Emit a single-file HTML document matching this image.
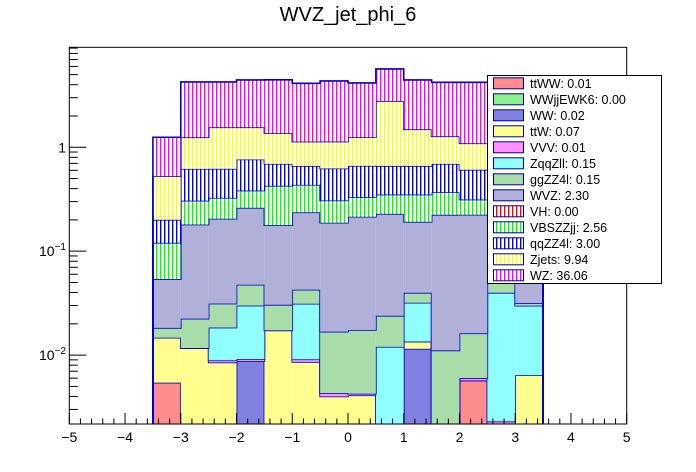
<!DOCTYPE html>
<html><head><meta charset="utf-8"><style>
html,body{margin:0;padding:0;background:#fff;}
svg{display:block;font-family:"Liberation Sans",Arial,sans-serif;}
</style></head><body>
<svg id="c" width="696" height="472" viewBox="0 0 696 472" xmlns="http://www.w3.org/2000/svg">
<defs id="defs"></defs>
<rect width="696" height="472" fill="#fff"/>
<text x="348" y="21" font-size="20" text-anchor="middle">WVZ_jet_phi_6</text>
<clipPath id="pc"><rect x="69.3" y="47.3" width="557.4" height="376.7"/></clipPath>
<g id="layers" clip-path="url(#pc)"></g>
<g id="axes"></g>
<g id="legend"></g>
</svg>
<script>
const binLow = -3.5, binWidth = 0.5;
const ttWW  = [0.00543,0,0,0,0,0,0,0,0,0,0,0.0057,0,0];
const WWjj  = [0,0,0,0,0,0,0,0,0,0,0,0,0,0];
const WW    = [0,0,0,0.00875,0,0,0,0,0,0.0115,0,0,0,0];
const ttW   = [0.00927,0.0117,0.0085,0,0.0173,0.0086,0.0040,0.0041,0,0.0020,0,0,0,0.0064];
const VVV   = [0,0,0.0004,0.0004,0,0.0005,0.0003,0.00015,0,0,0,0.0003,0.0023,0];
const ZqqZll= [0,0,0.0095,0.0208,0,0.0221,0,0,0.012,0.0184,0,0,0.0375,0.0235];
const ggZZ  = [0.00357,0.0107,0.0129,0.0176,0.0132,0.0114,0.0125,0.0132,0.0119,0.0079,0.0111,0.0102,0.0124,0.0017];
const WVZ   = [0.0357,0.158,0.174,0.214,0.1475,0.194,0.171,0.197,0.205,0.152,0.213,0.208,0.17,0.17];
const VH    = [0,0,0,0,0,0,0,0,0,0,0,0,0,0];
const VBSZZ = [0.0665,0.126,0.121,0.122,0.248,0.198,0.120,0.117,0.122,0.159,0.145,0.090,0.14,0.12];
const qqZZ  = [0.080,0.313,0.294,0.379,0.266,0.227,0.317,0.331,0.311,0.311,0.323,0.293,0.30,0.30];
const Zjets = [0.326,0.628,0.936,0.794,0.672,0.473,0.511,0.586,2.13,0.828,0.584,0.485,0.55,0.5];
const WZ    = [0.722,3.01,2.70,2.89,3.09,2.99,3.21,2.91,2.88,2.96,2.94,3.13,2.98,3.0];
const legendLabels = ["ttWW: 0.01","WWjjEWK6: 0.00","WW: 0.02","ttW: 0.07","VVV: 0.01","ZqqZll: 0.15","ggZZ4l: 0.15","WVZ: 2.30","VH: 0.00","VBSZZjj: 2.56","qqZZ4l: 3.00","Zjets: 9.94","WZ: 36.06"];
const xTicks = [-5,-4,-3,-2,-1,0,1,2,3,4,5];

const NS="http://www.w3.org/2000/svg";
const X0=69.3,X1=626.7,Y0=47.3,Y1=424;
const xMin=-5,xMax=5,logTop=0.962,logBot=-2.663;
function xs(v){return X0+(v-xMin)/(xMax-xMin)*(X1-X0);}
function ys(v){if(v<=0)return Y1+50;return Y0+(logTop-Math.log10(v))/(logTop-logBot)*(Y1-Y0);}
function el(t,a,p){const e=document.createElementNS(NS,t);for(const k in a)e.setAttribute(k,a[k]);if(p)p.appendChild(e);return e;}

const defs=document.getElementById('defs');
function vlines(id,col){const p=el('pattern',{id:id,width:4,height:4,patternUnits:'userSpaceOnUse'},defs);
 el('rect',{width:4,height:4,fill:'#fff'},p);el('rect',{x:0,y:0,width:1.4,height:4,fill:col},p);}
const series=[
 {n:'ttWW',d:ttWW,t:'c',c:'#ff8c8c'},
 {n:'WWjjEWK6',d:WWjj,t:'c',c:'#8cf08c'},
 {n:'WW',d:WW,t:'c',c:'#8080e0'},
 {n:'ttW',d:ttW,t:'c',c:'#ffff90'},
 {n:'VVV',d:VVV,t:'c',c:'#ff90ff'},
 {n:'ZqqZll',d:ZqqZll,t:'c',c:'#90ffff'},
 {n:'ggZZ4l',d:ggZZ,t:'c',c:'#a8dca8'},
 {n:'WVZ',d:WVZ,t:'c',c:'#b0b0d8'},
 {n:'VH',d:VH,t:'v',c:'#ff0000'},
 {n:'VBSZZjj',d:VBSZZ,t:'v',c:'#00ff00'},
 {n:'qqZZ4l',d:qqZZ,t:'v',c:'#0000ff'},
 {n:'Zjets',d:Zjets,t:'v',c:'#ffff00'},
 {n:'WZ',d:WZ,t:'v',c:'#ff00ff'}];
series.forEach((s,i)=>{if(s.t==='c'){s.fill=s.c;}else{s.pid='p'+i;vlines(s.pid,s.c);s.fill='url(#'+s.pid+')';}});

const layers=document.getElementById('layers');
const nb=WZ.length;let cum=new Array(nb).fill(0);
series.forEach(s=>{
 const g=el('g',{},layers);
 
 
 const top=cum.map((c,i)=>c+s.d[i]);
 let path='';
 for(let i=0;i<nb;i++){
  const xa=xs(binLow+i*binWidth),xb=xs(binLow+(i+1)*binWidth);
  if(s.d[i]>0){const ya=ys(top[i]),yb=Math.min(ys(cum[i]),Y1+5);
   const r=el('rect',{x:xa,y:ya,width:xb-xa,height:Math.max(0,yb-ya),fill:s.fill},g);
   
   }
  const yt=Math.min(ys(top[i]),Y1+5);
  if(i===0)path+='M'+xa+','+(Y1+5)+' V'+yt;else path+=' V'+yt;
  path+=' H'+xb;
 }
 path+=' V'+(Y1+5);
 if(s.d.some(v=>v>0)){const o=el('path',{d:path,fill:'none',stroke:'#0000cc','stroke-width':1.6},g);
  
  }
 cum=top;
});

const ax=document.getElementById('axes');
const fr=el('rect',{x:X0,y:Y0,width:X1-X0,height:Y1-Y0,fill:'none',stroke:'#000','stroke-width':1},ax);

for(let v=-5;v<=5.001;v+=0.2){const x=xs(v);const maj=Math.abs(v-Math.round(v))<1e-6;
 el('line',{x1:x,x2:x,y1:Y1,y2:Y1-(maj?11:5.5),stroke:'#000','stroke-width':1},ax);}
xTicks.forEach(v=>{const t=el('text',{x:xs(v),y:442,'font-size':14,'text-anchor':'middle'},ax);
 
 t.textContent=(v<0?'\u2212'+(-v):''+v);});
for(let e=-3;e<=0;e++){for(let m=1;m<=9;m++){const v=m*Math.pow(10,e);const y=ys(v);if(y<Y0||y>Y1)continue;
 el('line',{x1:X0,x2:X0+(m===1?17:8.5),y1:y,y2:y,stroke:'#000','stroke-width':1},ax);}}
function ylab(v,txt,sup){const t=el('text',{x:66,y:ys(v)+5,'font-size':14,'text-anchor':'end'},ax);
 
 t.textContent=txt;if(sup){const s=el('tspan',{dy:-6,'font-size':10},t);s.textContent=sup;}}
ylab(1,'1');ylab(0.1,'10','\u22121');ylab(0.01,'10','\u22122');

const lg=document.getElementById('legend');

el('rect',{x:487.5,y:75.5,width:174,height:208,fill:'#fff',stroke:'#000','stroke-width':1},lg);
legendLabels.forEach((lab,i)=>{const y=83.3+i*16;const s=series[i];
 const g=el('g',{},lg);
 
 
 el('rect',{x:493.5,y:y-5.5,width:30,height:11,fill:s.fill,stroke:'#0000aa','stroke-width':1},g);
 const t=el('text',{x:530,y:y+4.5,'font-size':12.5},g);t.textContent=lab;});
</script>
</body></html>
